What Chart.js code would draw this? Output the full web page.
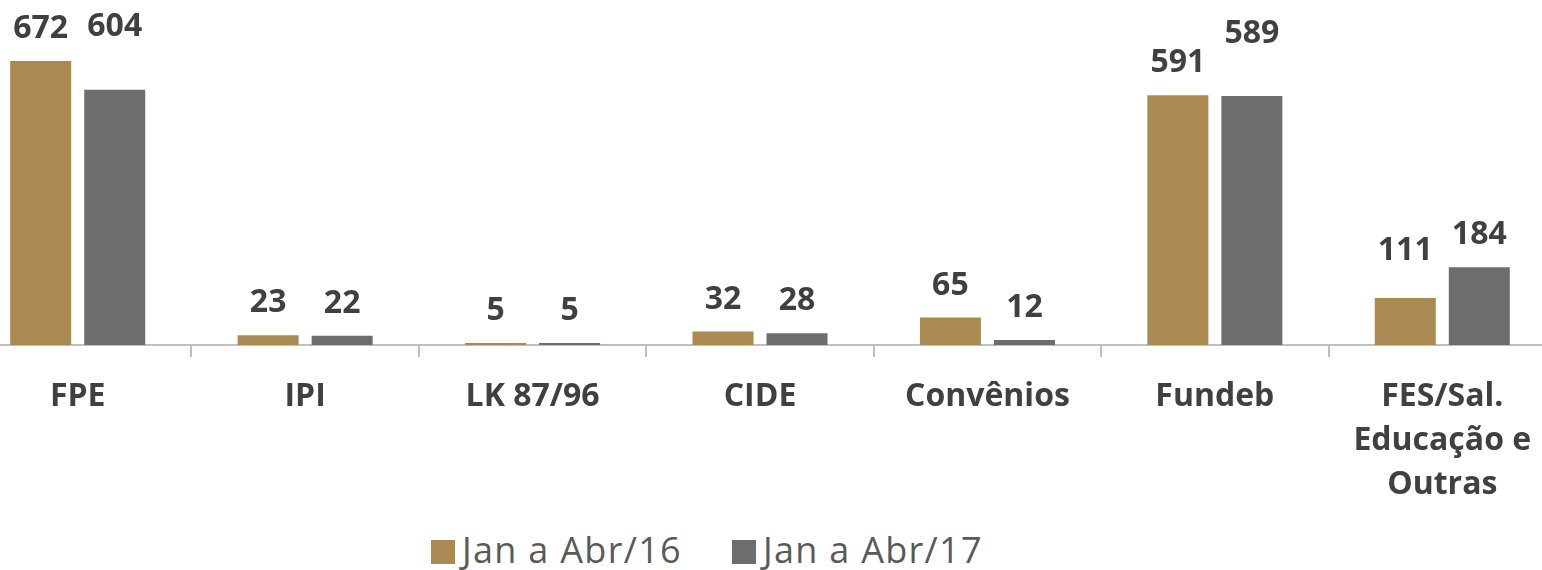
<!DOCTYPE html>
<html>
<head>
<meta charset="utf-8">
<script src="https://cdn.jsdelivr.net/npm/chart.js@4/dist/chart.umd.min.js"></script>
<style>
  html, body { margin: 0; padding: 0; background: #fff; width: 1542px; height: 570px; overflow: hidden; position: relative; }
  #wrap { position: absolute; left: -36px; top: 0; width: 1592px; height: 520px; }
  #legend { position: absolute; left: 431px; top: 525px; display: flex; align-items: center; font-family: "Open Sans", sans-serif; font-size: 36px; line-height: 50px; color: #595959; letter-spacing: 1.3px; }
  .item { display: flex; align-items: center; }
  .box { width: 24px; height: 24px; margin-right: 7px; margin-top: 4px; }
</style>
</head>
<body>
<div id="wrap"><canvas id="c"></canvas></div>
<div id="legend"></div>
<script>
const categories = ["FPE", "IPI", "LK 87/96", "CIDE", "Convênios", "Fundeb", ["FES/Sal.", "Educação e", "Outras"]];
const seriesNames = ["Jan a Abr/16", "Jan a Abr/17"];
const values2016 = [672, 23, 5, 32, 65, 591, 111];
const values2017 = [604, 22, 5, 28, 12, 589, 184];
const colors = ["#AA8952", "#6D6D6F"];

const labelLift = [[0, 0, 0, 0, 0, 0, 15], [31, 0, 0, 0, 0, 30, 0]];

const valueLabels = {
  id: "valueLabels",
  afterDatasetsDraw(chart) {
    const ctx = chart.ctx;
    ctx.save();
    ctx.font = "bold 32px 'Open Sans'";
    ctx.fillStyle = "#404040";
    ctx.textAlign = "center";
    ctx.textBaseline = "middle";
    chart.data.datasets.forEach((ds, di) => {
      chart.getDatasetMeta(di).data.forEach((bar, i) => {
        ctx.fillText(String(ds.data[i]), bar.x, bar.y - 32 - labelLift[di][i]);
      });
    });
    ctx.restore();
  }
};

new Chart(document.getElementById("c"), {
  type: "bar",
  data: {
    labels: categories,
    datasets: [
      { label: seriesNames[0], data: values2016, backgroundColor: colors[0], barPercentage: 0.824, categoryPercentage: 0.651 },
      { label: seriesNames[1], data: values2017, backgroundColor: colors[1], barPercentage: 0.824, categoryPercentage: 0.651 }
    ]
  },
  options: {
    responsive: true,
    maintainAspectRatio: false,
    animation: false,
    layout: { padding: 0 },
    plugins: { legend: { display: false }, tooltip: { enabled: false } },
    scales: {
      x: {
        grid: { display: true, drawOnChartArea: false, drawTicks: true, tickLength: 12, color: "#BFBFBF", lineWidth: 2, offset: true },
        border: { display: true, color: "#BFBFBF", width: 2 },
        ticks: { font: { family: "'Open Sans'", size: 32, weight: "bold", lineHeight: "44px" }, color: "#404040", padding: 18, maxRotation: 0, autoSkip: false },
        afterFit: (axis) => { axis.height = 175; }
      },
      y: { display: false, min: 0, max: 816 }
    }
  },
  plugins: [valueLabels]
});

const lg = document.getElementById("legend");
seriesNames.forEach((n, i) => {
  const it = document.createElement("div");
  it.className = "item";
  it.style.marginRight = i === 0 ? "50px" : "0";
  const b = document.createElement("div");
  b.className = "box";
  b.style.background = colors[i];
  const t = document.createElement("span");
  t.textContent = n;
  it.appendChild(b); it.appendChild(t);
  lg.appendChild(it);
});
</script>
</body>
</html>
